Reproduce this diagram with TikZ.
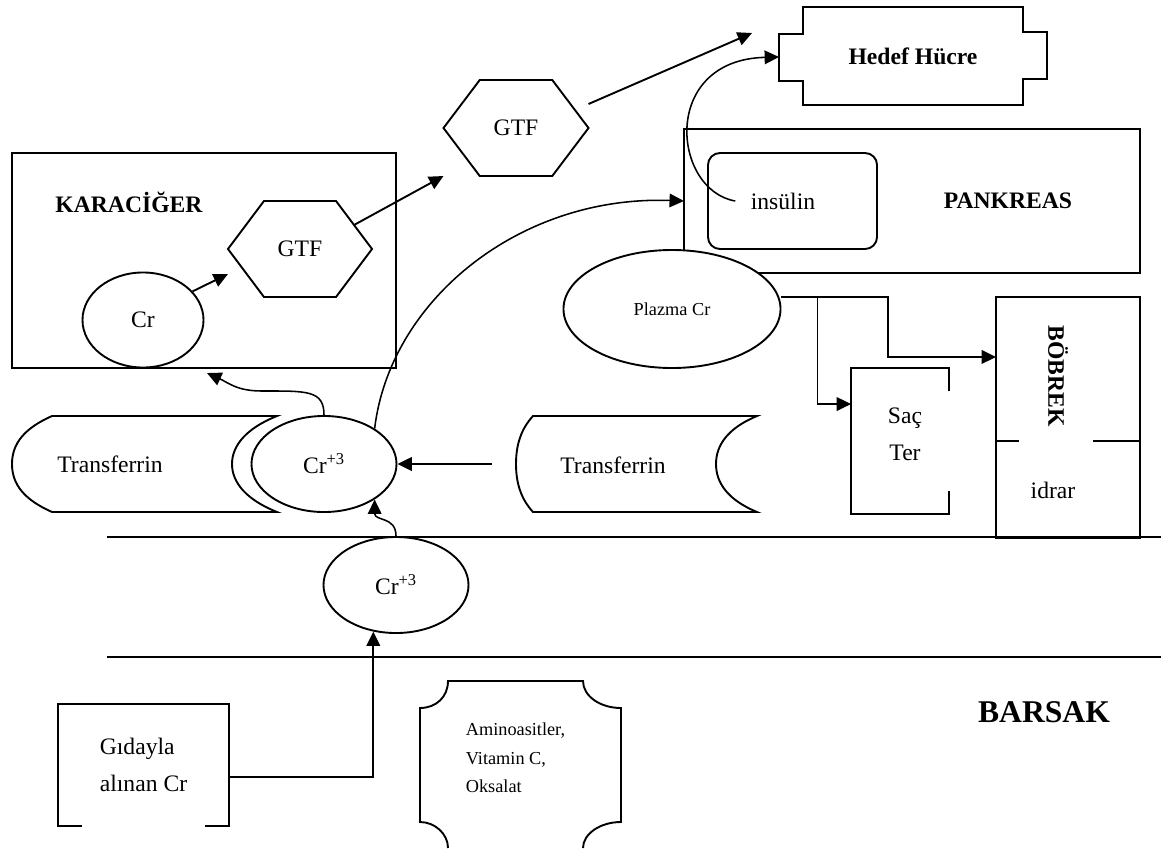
\documentclass[tikz,border=0pt]{standalone}
\usepackage{fontspec}
\setmainfont{Liberation Serif}
\usetikzlibrary{shapes.geometric,arrows.meta,calc}

\begin{document}
\begin{tikzpicture}[x=0.025cm,y=-0.025cm,line width=1.35pt,
	font=\fontsize{16.8}{20}\selectfont,
	arr/.style={-{Triangle[length=0.36cm,width=0.34cm]}},
	oval/.style={draw,ellipse,fill=white,inner sep=0pt,minimum width=3.625cm,minimum height=2.4cm},
	hexbox/.style={inner sep=0pt,outer sep=0pt,minimum width=3.625cm,minimum height=2.4cm},
	organ/.style={draw,rectangle,inner sep=0pt,outer sep=0pt},
	boldtext/.style={font=\fontsize{16.8}{20}\selectfont\bfseries},
	smalltext/.style={font=\fontsize{13}{20.3}\selectfont}]
	\useasboundingbox (0,0) rectangle (1161,848);

	% karaciger
	\node[organ,minimum width=9.6cm,minimum height=5.375cm] (kara) at (204,260.5) {};
	\node[boldtext] (karaT) at (129,202) {KARACİĞER};
	\node[oval,minimum width=3.025cm,minimum height=2.375cm] (crL) at (143,320) {Cr};
	\node[hexbox,minimum width=3.6cm] (gtfB) at (300,249) {GTF};
	\node[hexbox] (gtfA) at (516,128) {GTF};
	\foreach \h in {gtfA,gtfB}
		\draw (\h.west) -- ($(\h.north west)!0.25!(\h.north east)$) coordinate (\h-nw)
			-- ($(\h.north west)!0.75!(\h.north east)$) coordinate (\h-ne) -- (\h.east)
			-- ($(\h.south west)!0.75!(\h.south east)$) -- ($(\h.south west)!0.25!(\h.south east)$) -- cycle;

	% hedef hucre
	\node[boldtext,inner sep=0pt,minimum width=5.45cm,minimum height=2.4cm] (hedef) at (913,56) {Hedef Hücre};
	\draw (hedef.north west) -- (hedef.north east) -- ++(0,25) -- ++(24,0) -- ++(0,47) -- ++(-24,0)
		-- (hedef.south east) -- (hedef.south west) -- ++(0,-24) -- ++(-24,0) -- ++(0,-47) -- ++(24,0) -- cycle;

	% pankreas
	\node[organ,minimum width=11.4cm,minimum height=3.6cm] (pank) at (912,201) {};
	\node[boldtext] (pankT) at (1008,201) {PANKREAS};
	\node[organ,rounded corners=0.3cm,minimum width=4.225cm,minimum height=2.4cm] (insu) at (792.5,201) {};
	\node (insT) at (783,201) {insülin};
	\node[oval,smalltext,minimum width=5.425cm,minimum height=2.95cm] (plazma) at (672,309) {Plazma Cr};

	% bobrek, sac ter
	\node[organ,minimum width=3.6cm,minimum height=6.025cm] (bobrek) at (1068,417.5) {};
	\node[boldtext,rotate=-90] (bobT) at (1058,376) {BÖBREK};
	\node (idrar) at (1053,490) {idrar};
	\draw ($(bobrek.north west)+(0,144)$) -- ++(23,0);
	\draw ($(bobrek.north east)+(0,144)$) -- ++(-47,0);
	\node[inner sep=0pt,minimum width=2.4cm,minimum height=3.6cm] (sac) at (900,441) {};
	\draw ($(sac.north east)+(0,23)$) -- (sac.north east) -- (sac.north west) -- (sac.south west) -- (sac.south east) -- ++(0,-23);
	\node (sacT) at (905,418) {Saç};
	\node (terT) at (905,453) {Ter};

	% transferrin
	\draw (52,416) -- (277,416) .. controls (247,428) and (232,445) .. (232,464) .. controls (232,483) and (247,500) .. (277,512)
		-- (52,512) .. controls (25,500) and (12,485) .. (12,464) .. controls (12,443) and (25,428) .. (52,416) -- cycle;
	\node (tfL) at (110,464) {Transferrin};
	\draw (533,416) -- (757,416) .. controls (728,428) and (716,445) .. (716,464) .. controls (716,483) and (728,500) .. (757,512)
		-- (533,512) .. controls (522,500) and (516,485) .. (516,464) .. controls (516,443) and (522,428) .. (533,416) -- cycle;
	\node (tfR) at (613,465) {Transferrin};
	\coordinate (tfRend) at (492,464);
	\node[oval] (crA) at (324,464) {Cr\textsuperscript{+3}};

	% barsak
	\node[oval] (crB) at (396,585) {Cr\textsuperscript{+3}};
	\draw (107,537) -- (1161,537);
	\draw (107,657) -- (1161,657);
	\node[font=\fontsize{22.5}{26}\selectfont\bfseries] (barsak) at (1044,712) {BARSAK};
	\node[align=left,font=\fontsize{16.8}{26.3}\selectfont,inner sep=0pt,minimum width=4.225cm,minimum height=3cm] (gida) at (143.5,765) {Gıdayla\\alınan Cr};
	\draw ($(gida.south west)+(24,0)$) -- (gida.south west) -- (gida.north west) -- (gida.north east) -- (gida.south east) -- ++(-24,0);
	\draw (448,848) .. controls (448,834) and (435,822) .. (420,822) -- (420,708) .. controls (436,708) and (448,697) .. (448,681)
		-- (583,681) .. controls (583,696) and (600,708) .. (621,708) -- (621,822) .. controls (600,822) and (583,834) .. (583,848);
	\node[align=left,smalltext] (amino) at (515.5,758) {Aminoasitler,\\Vitamin C,\\Oksalat};

	% oklar
	\draw[arr] (crL.30) -- ($(gtfB.west)+(0,25)$);
	\draw[arr] ($(gtfB-ne)!0.5!(gtfB.east)$) -- (gtfA.south west);
	\draw[arr] ($(gtfA.east)+(0,-24)$) -- ($(hedef.west)+(-51,-23)$);
	\draw[arr,line width=1.1pt] ([xshift=-0.25cm]insT.west) .. controls (672,190) and (660,60) .. ($(hedef.west)+(-24,1)$);
	\draw[arr,line width=1.1pt] (crA.35) .. controls (390,300) and (520,195) .. (pank.west);
	\draw[arr,line width=1.1pt] (crA.north) .. controls +(0,-25) and +(45,0) .. (262,391) .. controls +(-25,0) and +(22,10) .. ($(kara.south)+(3,5)$);
	\draw[arr,line width=1.1pt] (crB.north) .. controls +(0,-20) and +(0,22) .. (crA.-35);
	\draw[arr] (tfRend) -- (crA.east);
	\draw[arr] ($(plazma.east)+(0,-12)$) -| ($(bobrek.north west)+(-108,60)$) -- ($(bobrek.north west)+(0,60)$);
	\draw[arr] ($(plazma.east)+(36,-12)$) |- ($(sac.north west)+(0,36)$);
	\draw[arr] ($(gida.east)+(0,12)$) -| (crB.-116);
\end{tikzpicture}
\end{document}
